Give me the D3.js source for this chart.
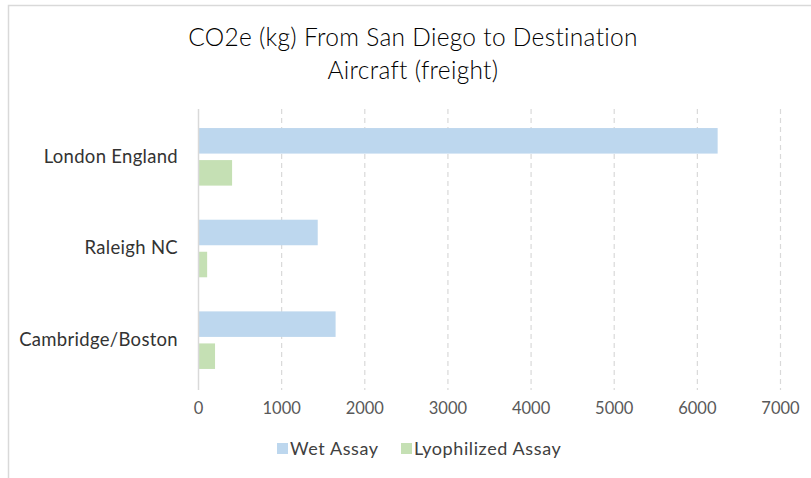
<!DOCTYPE html>
<html>
<head>
<meta charset="utf-8">
<script src="https://cdn.jsdelivr.net/npm/d3@7"></script>
<style>
  html, body { margin: 0; padding: 0; background: #fff; }
  svg { display: block; font-family: Lato, "Open Sans", sans-serif; }
</style>
</head>
<body>
<svg id="chart" width="811" height="478"></svg>
<script>
// Categories, listed top to bottom as drawn
const categories = ["London England", "Raleigh NC", "Cambridge/Boston"];
const seriesNames = ["Wet Assay", "Lyophilized Assay"];
const wetAssay = [6250, 1440, 1655];
const lyophilizedAssay = [410, 110, 205];
const xTicks = [0, 1000, 2000, 3000, 4000, 5000, 6000, 7000];
const seriesColors = ["#bdd7ee", "#c5e0b4"];

const rows = categories.map((c, i) => ({
  category: c,
  values: [
    { series: seriesNames[0], value: wetAssay[i] },
    { series: seriesNames[1], value: lyophilizedAssay[i] }
  ]
}));

const svg = d3.select("#chart");
const W = 811, H = 478;

// chart frame
svg.append("rect")
  .attr("x", 8.5).attr("y", 5.5)
  .attr("width", W + 10).attr("height", H + 10)
  .attr("fill", "#fff").attr("stroke", "#d9d9d9").attr("stroke-width", 1.5);

const plot = { left: 198, right: 780, top: 111, bottom: 386 };

const x = d3.scaleLinear().domain([0, 7000]).range([plot.left, plot.right]);
const y = d3.scaleBand().domain(categories)
  .range([plot.top, plot.bottom]).paddingInner(0.372).paddingOuter(0.186);
const ySub = d3.scaleBand().domain(seriesNames)
  .range([0, y.bandwidth()]).paddingInner(0.203);
const color = d3.scaleOrdinal().domain(seriesNames).range(seriesColors);

// title
const title = svg.append("text")
  .attr("x", 413).attr("text-anchor", "middle")
  .attr("fill", "#000").attr("font-size", 24.5).attr("font-weight", 300)
  .attr("letter-spacing", 0.3);
title.append("tspan").attr("x", 413).attr("y", 46).text("CO2e (kg) From San Diego to Destination");
title.append("tspan").attr("x", 413).attr("y", 79).text("Aircraft (freight)");

// vertical dashed gridlines
svg.append("g")
  .selectAll("line")
  .data(xTicks.filter(t => t > 0))
  .join("line")
  .attr("x1", d => x(d) + 0.5).attr("x2", d => x(d) + 0.5)
  .attr("y1", plot.top - 2).attr("y2", plot.bottom + 4)
  .attr("stroke", "#d9d9d9").attr("stroke-width", 1.2)
  .attr("stroke-dasharray", "5,4");

// bars
const groups = svg.append("g").selectAll("g")
  .data(rows)
  .join("g")
  .attr("transform", d => `translate(0,${y(d.category)})`);

groups.selectAll("rect")
  .data(d => d.values)
  .join("rect")
  .attr("x", x(0))
  .attr("y", d => ySub(d.series))
  .attr("width", d => x(d.value) - x(0))
  .attr("height", ySub.bandwidth())
  .attr("fill", d => color(d.series));

// category axis line at zero
svg.append("line")
  .attr("x1", x(0) + 0.5).attr("x2", x(0) + 0.5)
  .attr("y1", plot.top - 2).attr("y2", plot.bottom + 4)
  .attr("stroke", "#d9d9d9").attr("stroke-width", 1.5);

// category labels
const yAxis = d3.axisLeft(y).tickSize(0).tickPadding(20);
svg.append("g")
  .attr("transform", `translate(${plot.left},0)`)
  .call(yAxis)
  .call(g => g.select(".domain").remove())
  .call(g => g.selectAll("text")
    .attr("font-family", "Lato, sans-serif")
    .attr("font-size", 18.5).attr("letter-spacing", 0.3)
    .attr("font-weight", 400).attr("fill", "#333"));

// value axis labels
const xAxis = d3.axisBottom(x).tickValues(xTicks).tickSize(0).tickPadding(16)
  .tickFormat(d3.format("d"));
svg.append("g")
  .attr("transform", `translate(0,${plot.bottom})`)
  .call(xAxis)
  .call(g => g.select(".domain").remove())
  .call(g => g.selectAll("text")
    .attr("font-family", "Lato, sans-serif")
    .attr("font-size", 16.5).attr("fill", "#595959"));

// legend
const legendItems = [
  { name: seriesNames[0], x: 277 },
  { name: seriesNames[1], x: 401 }
];
const legend = svg.append("g").selectAll("g")
  .data(legendItems)
  .join("g")
  .attr("transform", d => `translate(${d.x},443)`);
legend.append("rect")
  .attr("width", 11).attr("height", 11)
  .attr("fill", d => color(d.name));
legend.append("text")
  .attr("x", 13).attr("y", 11.5)
  .attr("font-size", 18).attr("letter-spacing", 0.6)
  .attr("fill", "#404040")
  .text(d => d.name);
</script>
</body>
</html>
